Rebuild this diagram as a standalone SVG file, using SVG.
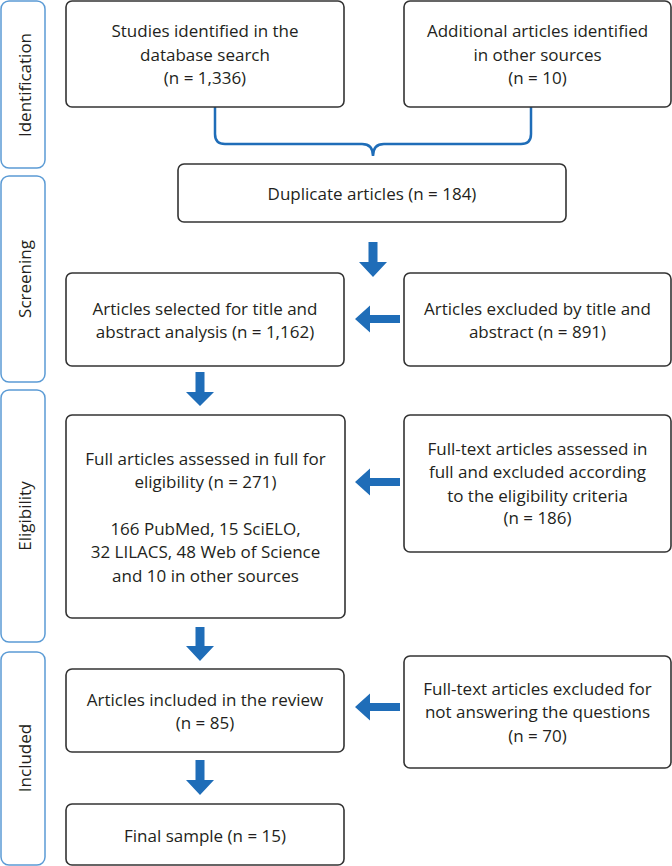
<svg xmlns="http://www.w3.org/2000/svg" width="672" height="866" viewBox="0 0 672 866">
<style>
.phase{fill:#fff;stroke:#5b9bd5;stroke-width:1.5}
.node{fill:#fff;stroke:#333;stroke-width:1.6}
.t{font-family:"Open Sans","Liberation Sans",sans-serif;font-size:17px;fill:#231f20;text-anchor:middle}
.arr{fill:#1f6db8}
.brace{fill:none;stroke:#1f6db8;stroke-width:2.5}
</style>
<rect width="672" height="866" fill="#fff"/>
<g id="phase-identification"><rect class="phase" x="1" y="1" width="44" height="167" rx="8"/><text class="t" transform="translate(31,85) rotate(-90)">Identification</text></g>
<g id="phase-screening"><rect class="phase" x="1" y="176" width="44" height="206" rx="8"/><text class="t" transform="translate(31,279) rotate(-90)">Screening</text></g>
<g id="phase-eligibility"><rect class="phase" x="1" y="390" width="44" height="252" rx="8"/><text class="t" transform="translate(31,516) rotate(-90)">Eligibility</text></g>
<g id="phase-included"><rect class="phase" x="1" y="652" width="44" height="213" rx="8"/><text class="t" transform="translate(31,758) rotate(-90)">Included</text></g>

<g id="connectors">
<path class="brace" d="M215,107 V134 Q215,144 225,144 H362 Q373,144 373,156 Q373,144 384,144 H521 Q531,144 531,134 V107"/>
<polygon class="arr" points="368.5,242 377.5,242 377.5,262 387,262 373,277 359,262 368.5,262"/>
<polygon class="arr" points="195.5,372 204.5,372 204.5,392 214,392 200,406 186,392 195.5,392"/>
<polygon class="arr" points="195.5,627 204.5,627 204.5,646 214,646 200,661 186,646 195.5,646"/>
<polygon class="arr" points="195.5,760 204.5,760 204.5,780 214,780 200,795 186,780 195.5,780"/>
<polygon class="arr" points="400,315 370,315 370,305.5 355,319 370,332.5 370,323 400,323"/>
<polygon class="arr" points="400,478 370,478 370,468.5 355,482 370,495.5 370,486 400,486"/>
<polygon class="arr" points="400,703 370,703 370,693.5 355,707 370,720.5 370,711 400,711"/>
</g>

<g id="n-db"><rect class="node" x="66" y="1" width="278" height="106" rx="6"/>
<text class="t" x="205" y="37">Studies identified in the</text>
<text class="t" x="205" y="61">database search</text>
<text class="t" x="205" y="84">(n = 1,336)</text></g>
<g id="n-other"><rect class="node" x="404" y="1" width="267" height="106" rx="6"/>
<text class="t" x="537.5" y="37">Additional articles identified</text>
<text class="t" x="537.5" y="61">in other sources</text>
<text class="t" x="537.5" y="84">(n = 10)</text></g>
<g id="n-dup"><rect class="node" x="178" y="164" width="388" height="58" rx="6"/>
<text class="t" x="372" y="200">Duplicate articles (n = 184)</text></g>
<g id="n-selected"><rect class="node" x="66" y="273" width="278" height="93" rx="6"/>
<text class="t" x="205" y="315">Articles selected for title and</text>
<text class="t" x="205" y="338">abstract analysis (n = 1,162)</text></g>
<g id="n-excl-title"><rect class="node" x="404" y="273" width="267" height="93" rx="6"/>
<text class="t" x="537.5" y="315">Articles excluded by title and</text>
<text class="t" x="537.5" y="338">abstract (n = 891)</text></g>
<g id="n-full"><rect class="node" x="66" y="415" width="279" height="203" rx="6"/>
<text class="t" x="205.5" y="465">Full articles assessed in full for</text>
<text class="t" x="205.5" y="488">eligibility (n = 271)</text>
<text class="t" x="205.5" y="535">166 PubMed, 15 SciELO,</text>
<text class="t" x="205.5" y="558">32 LILACS, 48 Web of Science</text>
<text class="t" x="205.5" y="582">and 10 in other sources</text></g>
<g id="n-excl-elig"><rect class="node" x="404" y="415" width="267" height="137" rx="6"/>
<text class="t" x="537.5" y="455">Full-text articles assessed in</text>
<text class="t" x="537.5" y="478">full and excluded according</text>
<text class="t" x="537.5" y="502">to the eligibility criteria</text>
<text class="t" x="537.5" y="524">(n = 186)</text></g>
<g id="n-included"><rect class="node" x="66" y="669" width="278" height="83" rx="6"/>
<text class="t" x="205" y="706">Articles included in the review</text>
<text class="t" x="205" y="729">(n = 85)</text></g>
<g id="n-excl-q"><rect class="node" x="404" y="656" width="267" height="112" rx="6"/>
<text class="t" x="537.5" y="695">Full-text articles excluded for</text>
<text class="t" x="537.5" y="718">not answering the questions</text>
<text class="t" x="537.5" y="742">(n = 70)</text></g>
<g id="n-final"><rect class="node" x="66" y="804" width="278" height="61" rx="6"/>
<text class="t" x="205" y="842">Final sample (n = 15)</text></g>
</svg>
